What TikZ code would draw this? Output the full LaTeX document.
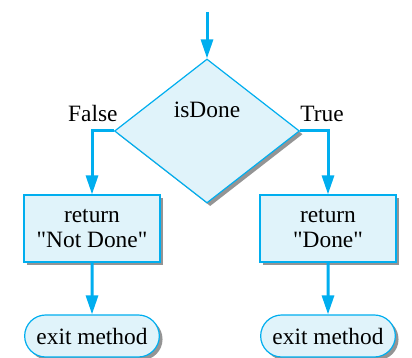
\documentclass[tikz,border=0pt]{standalone}
\usepackage{fontspec}
\setmainfont{Liberation Serif}
\usetikzlibrary{arrows.meta,shapes.geometric,shapes.misc,shadows}
\definecolor{flow_cyan}{RGB}{0,174,239}
\definecolor{flow_fill}{RGB}{224,243,250}

\begin{document}
\begin{tikzpicture}[x=0.5pt, y=-0.5pt, font=\fontsize{11.7}{12.5}\selectfont,
    flowshadow/.style={drop shadow={shadow xshift=1.6pt, shadow yshift=-1.6pt, fill=black!42, opacity=1}},
    decision/.style={diamond, draw=flow_cyan, fill=flow_fill, line width=0.6pt,
      minimum width=92.5pt, minimum height=72pt, inner sep=0pt, flowshadow},
    process/.style={rectangle, draw=flow_cyan, fill=flow_fill, line width=0.6pt,
      minimum width=68pt, minimum height=33.5pt, align=center, flowshadow},
    terminal/.style={rounded rectangle, draw=flow_cyan, fill=flow_fill, line width=0.6pt,
      minimum width=74pt, minimum height=21pt, flowshadow},
    flowarrow/.style={draw=flow_cyan, line width=1.5pt, -{Triangle[length=9.5pt,width=6pt]}}]
  \useasboundingbox (0,0) rectangle (412,358);
  % decision
  \coordinate (entry) at (207,12);
  \node[decision] (cond) at (207,131) {};
  \node (condtext) at (207,110) {isDone};
  \draw[flowarrow] (entry) -- (cond.north);
  \node[anchor=base east, inner sep=0pt] (falselbl) at (118,121) {False};
  \node[anchor=base west, inner sep=0pt] (truelbl) at (300,121) {True};
  % branches
  \node[process] (retno) at (92,228.5) {return\\ \textquotedbl Not Done\textquotedbl};
  \node[process] (retyes) at (328,228.5) {return\\ \textquotedbl Done\textquotedbl};
  \draw[flowarrow] (cond.west) -| (retno.north);
  \draw[flowarrow] (cond.east) -| (retyes.north);
  % exits
  \node[terminal] (exitno) at (92,336) {exit method};
  \node[terminal] (exityes) at (328,336) {exit method};
  \draw[flowarrow] (retno) -- (exitno);
  \draw[flowarrow] (retyes) -- (exityes);
\end{tikzpicture}
\end{document}
